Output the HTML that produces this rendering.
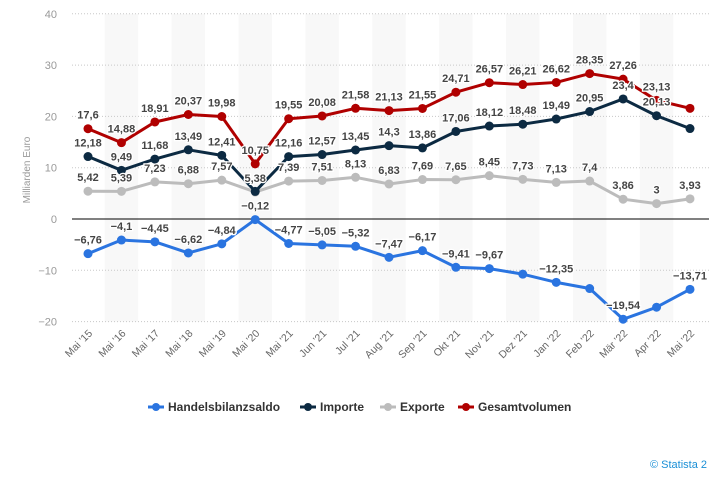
<!DOCTYPE html>
<html><head><meta charset="utf-8"><style>
body{margin:0;background:#fff;width:709px;height:478px;overflow:hidden;font-family:"Liberation Sans",sans-serif}
svg text{font-family:"Liberation Sans",sans-serif}
</style></head><body>
<svg id="c" width="709" height="478"></svg>
<script>
const categories=["Mai '15","Mai '16","Mai '17","Mai '18","Mai '19","Mai '20","Mai '21","Jun '21","Jul '21","Aug '21","Sep '21","Okt '21","Nov '21","Dez '21","Jan '22","Feb '22","Mär '22","Apr '22","Mai '22"];
const saldo=[-6.76,-4.1,-4.45,-6.62,-4.84,-0.12,-4.77,-5.05,-5.32,-7.47,-6.17,-9.41,-9.67,-10.75,-12.35,-13.55,-19.54,-17.2,-13.71];
const importe=[12.18,9.49,11.68,13.49,12.41,5.38,12.16,12.57,13.45,14.3,13.86,17.06,18.12,18.48,19.49,20.95,23.4,20.13,17.64];
const exporte=[5.42,5.39,7.23,6.88,7.57,5.26,7.39,7.51,8.13,6.83,7.69,7.65,8.45,7.73,7.13,7.4,3.86,3,3.93];
const gesamt=[17.6,14.88,18.91,20.37,19.98,10.75,19.55,20.08,21.58,21.13,21.55,24.71,26.57,26.21,26.62,28.35,27.26,23.13,21.57];
const saldoLabels=["−6,76","−4,1","−4,45","−6,62","−4,84","−0,12","−4,77","−5,05","−5,32","−7,47","−6,17","−9,41","−9,67","","−12,35","","−19,54","","−13,71"];
const importLabels=["12,18","9,49","11,68","13,49","12,41","","12,16","12,57","13,45","14,3","13,86","17,06","18,12","18,48","19,49","20,95","23,4","20,13",""];
const exportLabels=["5,42","5,39","7,23","6,88","7,57","5,38","7,39","7,51","8,13","6,83","7,69","7,65","8,45","7,73","7,13","7,4","3,86","3","3,93"];
const gesamtLabels=["17,6","14,88","18,91","20,37","19,98","10,75","19,55","20,08","21,58","21,13","21,55","24,71","26,57","26,21","26,62","28,35","27,26","23,13",""];
const yTicks=[40,30,20,10,0,-10,-20];

const svg=document.getElementById('c');const NS='http://www.w3.org/2000/svg';
const xs=i=>88+i*(690-88)/(categories.length-1);
const ys=v=>219-v*5.13;
const step=(690-88)/(categories.length-1);
function mk(t,a,p){const e=document.createElementNS(NS,t);for(const k in a)e.setAttribute(k,a[k]);(p||svg).appendChild(e);return e;}
for(let i=1;i<categories.length;i+=2){
 const r=mk('rect',{x:xs(i)-step/2,y:ys(40),width:step,height:ys(-20)-ys(40),fill:'#f8f8f8'});
 
 
}
yTicks.forEach(t=>{
 const l=mk('line',{x1:72,x2:709,y1:ys(t),y2:ys(t),stroke:t===0?'#000':'#c8c8c8','stroke-dasharray':t===0?'':'1,2','stroke-width':1});
 
 
 const tx=mk('text',{x:57,y:ys(t)+4,'text-anchor':'end','font-size':11,fill:'#999'});tx.textContent=String(t).replace('-','−');
 
 
});
const yt=mk('text',{x:0,y:0,'font-size':10,fill:'#999','text-anchor':'middle',transform:'translate(30,170) rotate(-90)'});yt.textContent='Milliarden Euro';


categories.forEach((c,i)=>{
 const t=mk('text',{x:0,y:0,'font-size':10.5,fill:'#666','text-anchor':'end',transform:`translate(${xs(i)+5},${334}) rotate(-45)`});t.textContent=c;
 
 
});
const series=[[exporte,'#bcbcbc',exportLabels,'exporte'],[importe,'#0c2a42',importLabels,'importe'],[gesamt,'#b00000',gesamtLabels,'gesamtvolumen'],[saldo,'#2a74e0',saldoLabels,'handelsbilanzsaldo']];
series.forEach(([d,col,lab,nm])=>{
 const p=mk('polyline',{points:d.map((v,i)=>xs(i)+','+ys(v)).join(' '),fill:'none',stroke:col,'stroke-width':3,'stroke-linejoin':'round'});
 
 
 d.forEach((v,i)=>{
  const c=mk('circle',{cx:xs(i),cy:ys(v),r:4.5,fill:col});
  
  
 });
});
series.forEach(([d,col,lab,nm])=>{
 d.forEach((v,i)=>{ if(!lab[i])return;
  const t=mk('text',{x:xs(i),y:ys(v)-10,'text-anchor':'middle','font-size':11,'font-weight':'bold',fill:'#444',stroke:'#fff','stroke-width':2.5,'paint-order':'stroke'});t.textContent=lab[i];
  
  
 });
});
const leg=[['Handelsbilanzsaldo','#2a74e0',148],['Importe','#0c2a42',300],['Exporte','#bcbcbc',380],['Gesamtvolumen','#b00000',458]];
leg.forEach(([n,c,x])=>{
 const g=mk('g',{});
 
 
 mk('line',{x1:x,x2:x+16,y1:407,y2:407,stroke:c,'stroke-width':3},g);
 mk('circle',{cx:x+8,cy:407,r:4,fill:c},g);
 const t=mk('text',{x:x+20,y:411,'font-size':12,'font-weight':'bold',fill:'#333'},g);t.textContent=n;
});
const s=mk('text',{x:650,y:468,'font-size':11,fill:'#1a8fd6'});s.textContent='© Statista 2';


</script>
</body></html>
